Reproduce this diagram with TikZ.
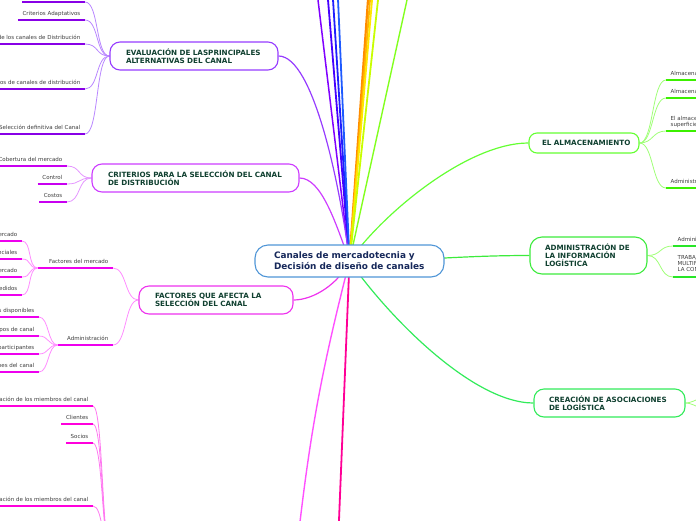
\documentclass[tikz,border=0pt]{standalone}
\usepackage{fontspec}
\setmainfont{DejaVu Sans}
\usepackage{xcolor}

% branch colours
\definecolor{evlc}{RGB}{150,60,255}
\definecolor{evlul}{RGB}{136,0,230}
\definecolor{evlcv}{RGB}{185,135,255}
\definecolor{crtc}{RGB}{205,60,255}
\definecolor{crtul}{RGB}{200,0,240}
\definecolor{crtcv}{RGB}{228,150,255}
\definecolor{facc}{RGB}{238,50,238}
\definecolor{facul}{RGB}{238,0,238}
\definecolor{faccv}{RGB}{255,140,255}
\definecolor{botul}{RGB}{255,0,220}
\definecolor{botcv}{RGB}{255,120,240}
\definecolor{almc}{RGB}{100,255,50}
\definecolor{almul}{RGB}{60,240,0}
\definecolor{almcv}{RGB}{160,255,120}
\definecolor{admc}{RGB}{60,235,60}
\definecolor{admul}{RGB}{40,230,40}
\definecolor{crec}{RGB}{50,235,90}
\definecolor{ctrc}{RGB}{80,150,215}
\definecolor{titlec}{RGB}{16,64,48}
\definecolor{ctrtxt}{RGB}{22,40,90}
\definecolor{leaftxt}{RGB}{60,60,60}
% rays to topics outside the picture
\definecolor{rayviolet}{RGB}{128,0,255}
\definecolor{rayindigo}{RGB}{70,0,255}
\definecolor{rayblue}{RGB}{30,30,255}
\definecolor{rayazure}{RGB}{30,90,255}
\definecolor{rayorange}{RGB}{255,140,0}
\definecolor{rayamber}{RGB}{255,180,0}
\definecolor{rayyellow}{RGB}{255,230,0}
\definecolor{raylime}{RGB}{200,255,0}
\definecolor{raygreen}{RGB}{130,255,30}
\definecolor{raypink}{RGB}{255,80,255}
\definecolor{rayrose}{RGB}{255,0,150}

\pgfdeclarelayer{links}
\pgfsetlayers{links,main}

\begin{document}
\begin{tikzpicture}[x=1pt, y=-1pt,
  topic/.style={draw=#1, line width=1.1pt, rounded corners=10pt, fill=white,
    align=left, inner ysep=0pt, inner xsep=16pt, text=titlec,
    font=\bfseries\fontsize{7.2}{8}\selectfont},
  leaf/.style={font=\fontsize{5.5}{6.6}\selectfont, text=leaftxt,
    inner xsep=4.5pt, inner ysep=3pt, text depth=1.3pt,
    append after command={(\tikzlastnode.south west)
      edge[draw=#1, line width=1.8pt] (\tikzlastnode.south east)}},
  branch/.style={draw=#1, line width=1.2pt},
  twig/.style={draw=#1, line width=0.8pt},
  ray/.style={draw=#1, line width=1.8pt}]

  \useasboundingbox (0,0) rectangle (696,520);
  \clip (0,0) rectangle (696,520);

  % ── Central topic ─────────────────────────────────────────
  \node[topic=ctrc, text=ctrtxt, font=\bfseries\fontsize{8.9}{10.7}\selectfont,
        inner xsep=19pt, text width=151pt, minimum height=32pt, rounded corners=13pt]
    (ctr) at (349.5,261) {\mbox{Canales de mercadotecnia y}\\\mbox{Decisión de diseño de canales}};

  % ── Left topics ───────────────────────────────────────────
  \node[topic=evlc, text width=136pt, minimum height=28pt]
    (evl) at (194,56) {\mbox{EVALUACIÓN DE LASPRINCIPALES}\\\mbox{ALTERNATIVAS DEL CANAL}};
  \node[topic=crtc, text width=175pt, minimum height=28pt]
    (crt) at (195.5,178) {\mbox{CRITERIOS PARA LA SELECCIÓN DEL CANAL}\\\mbox{DE DISTRIBUCIÓN}};
  \node[topic=facc, text width=122pt, minimum height=28pt]
    (fac) at (216,300) {\mbox{FACTORES QUE AFECTA LA}\\\mbox{SELECCIÓN DEL CANAL}};

  % ── Right topics ──────────────────────────────────────────
  \node[topic=almc, inner xsep=13pt, text width=84pt, minimum height=20pt, rounded corners=8pt]
    (alm) at (584,143) {\mbox{EL ALMACENAMIENTO}};
  \node[topic=admc, inner xsep=15pt, text width=87pt, minimum height=37pt, rounded corners=12pt]
    (adm) at (588.5,255.5) {\mbox{ADMINISTRACIÓN DE}\\\mbox{LA INFORMACIÓN}\\\mbox{LOGÍSTICA}};
  \node[topic=crec, inner xsep=15pt, text width=121pt, minimum height=28pt]
    (cre) at (609.5,403) {\mbox{CREACIÓN DE ASOCIACIONES}\\\mbox{DE LOGÍSTICA}};

  % ── Evaluación: leaves ────────────────────────────────────
  \coordinate (e0) at (85,2);
  \draw[evlul, line width=1.8pt] (e0) -- ++(-63,0);
  \node[leaf=evlul, anchor=south east] (e1) at (85,20) {Criterios Adaptativos};
  \node[leaf=evlul, anchor=south east] (e2) at (85,44) {Niveles de los canales de Distribución};
  \node[leaf=evlul, anchor=south east] (e3) at (85,89) {Tipos de canales de distribución};
  \node[leaf=evlul, anchor=south east] (e4) at (85,134) {Selección definitiva del Canal};

  % ── Criterios: leaves ─────────────────────────────────────
  \node[leaf=crtul, anchor=south east] (c1) at (67,166) {Cobertura del mercado};
  \node[leaf=crtul, anchor=south east] (c2) at (67,184) {Control};
  \node[leaf=crtul, anchor=south east] (c3) at (67,202) {Costos};

  % ── Factores: sub-topics and leaves ───────────────────────
  \node[leaf=facul, anchor=south east, text width=66pt, align=right]
    (f1) at (113,268) {Factores del mercado};
  \node[leaf=facul, anchor=south east, text width=46pt, align=right]
    (f2) at (113,345) {Administración};
  \node[leaf=facul, anchor=south east] (f11) at (22,241) {Tamaño del mercado};
  \node[leaf=facul, anchor=south east] (f12) at (22,259) {Clientes potenciales};
  \node[leaf=facul, anchor=south east] (f13) at (22,277) {Concentración del mercado};
  \node[leaf=facul, anchor=south east] (f14) at (22,295) {Tamaño de los pedidos};
  \node[leaf=facul, anchor=south east] (f21) at (39,317) {Recursos disponibles};
  \node[leaf=facul, anchor=south east] (f22) at (39,336) {Tipos de canal};
  \node[leaf=facul, anchor=south east] (f23) at (39,354) {Número de participantes};
  \node[leaf=facul, anchor=south east] (f24) at (39,372) {Funciones del canal};

  % ── Bottom branch (topic below the picture) ──────────────
  \coordinate (sel) at (110,548);
  \coordinate (selR) at (297,548);
  \node[leaf=botul, anchor=south east] (b1) at (93,406) {Motivación de los miembros del canal};
  \node[leaf=botul, anchor=south east] (b2) at (93,424) {Clientes};
  \node[leaf=botul, anchor=south east] (b3) at (93,443) {Socios};
  \node[leaf=botul, anchor=south east] (b4) at (93,506) {Evaluación de los miembros del canal};

  % ── Right leaves ──────────────────────────────────────────
  \node[leaf=almul, anchor=south west] (a1) at (666,80) {Almacenamiento propio};
  \node[leaf=almul, anchor=south west] (a2) at (666,98) {Almacenamiento público};
  \node[leaf=almul, anchor=south west, align=left, text depth={}]
    (a3) at (666,131) {El almacenamiento de\\superficie};
  \node[leaf=almul, anchor=south west] (a4) at (666,188) {Administración de inventarios};
  \node[leaf=admul, anchor=south west] (i1) at (673,246) {Administración de pedidos};
  \node[leaf=admul, anchor=south west, align=left, text depth={}, inner ysep=5pt,
        font=\fontsize{5.5}{6}\selectfont]
    (i2) at (673,277) {TRABAJO EN EQUIPO\\MULTIFUNCIONAL DENTRO DE\\LA COMPAÑÍA};
  \coordinate (cr1) at (716,392);
  \coordinate (cr2) at (716,414);

  % ── Topics outside the picture ────────────────────────────
  \coordinate (t1) at (316.8,-10);
  \coordinate (t2) at (327.2,-10);
  \coordinate (t3) at (332.4,-10);
  \coordinate (t4) at (337.6,-10);
  \coordinate (t5) at (368.7,-10);
  \coordinate (t6) at (370.8,-10);
  \coordinate (t7) at (372.9,-10);
  \coordinate (t8) at (379.1,-10);
  \coordinate (t9) at (409.2,-10);
  \coordinate (d2) at (338.4,535);

  \begin{pgfonlayer}{links}
    \clip (0,0) rectangle (696,520);
    % Rays
    \draw[ray=rayviolet, line width=1.5pt] (ctr.center) -- (t1);
    \draw[ray=rayindigo] (ctr.center) -- (t2);
    \draw[ray=rayblue] (ctr.center) -- (t3);
    \draw[ray=rayazure] (ctr.center) -- (t4);
    \draw[ray=rayorange, line width=2.2pt] (ctr.center) -- (t5);
    \draw[ray=rayamber] (ctr.center) -- (t6);
    \draw[ray=rayyellow] (ctr.center) -- (t7);
    \draw[ray=raylime] (ctr.center) -- (t8);
    \draw[ray=raygreen, line width=1.4pt] (ctr.center) -- (t9);
    \draw[ray=raypink, line width=1.4pt] (ctr.center) to[bend right=4] (selR);
    \draw[ray=rayrose] (ctr.center) -- (d2);
    % Centre to topics
    \draw[branch=evlc] (ctr.center) to[out=97, in=0, out distance=75pt, in distance=35pt] (evl.east);
    \draw[branch=crtc] (ctr.center) to[out=110, in=0, out distance=40pt, in distance=22pt] (crt.east);
    \draw[branch=facc] (ctr.center) to[out=-115, in=0, out distance=25pt, in distance=20pt] (fac.east);
    \draw[branch=almc] (ctr.center) to[out=55, in=180, out distance=60pt, in distance=60pt] (alm.west);
    \draw[branch=admc] (ctr.center) to[out=0, in=180] (adm.west);
    \draw[branch=crec] (ctr.center) to[out=-55, in=180, out distance=70pt, in distance=60pt] (cre.west);
    % Evaluación
    \draw[twig=evlcv] (evl.west) to[out=180, in=0, distance=14pt] (e0);
    \draw[twig=evlcv] (evl.west) to[out=180, in=0, distance=14pt] (e1.south east);
    \draw[twig=evlcv] (evl.west) to[out=180, in=0, distance=14pt] (e2.south east);
    \draw[twig=evlcv] (evl.west) to[out=180, in=0, distance=14pt] (e3.south east);
    \draw[twig=evlcv] (evl.west) to[out=180, in=0, distance=14pt] (e4.south east);
    % Criterios
    \draw[twig=crtcv] (crt.west) to[out=180, in=0, distance=14pt] (c1.south east);
    \draw[twig=crtcv] (crt.west) to[out=180, in=0, distance=14pt] (c2.south east);
    \draw[twig=crtcv] (crt.west) to[out=180, in=0, distance=14pt] (c3.south east);
    % Factores
    \draw[twig=faccv] (fac.west) to[out=180, in=0, distance=14pt] (f1.south east);
    \draw[twig=faccv] (fac.west) to[out=180, in=0, distance=14pt] (f2.south east);
    \draw[twig=faccv] (f1.south west) to[out=180, in=0, distance=10pt] (f11.south east);
    \draw[twig=faccv] (f1.south west) to[out=180, in=0, distance=10pt] (f12.south east);
    \draw[twig=faccv] (f1.south west) to[out=180, in=0, distance=10pt] (f13.south east);
    \draw[twig=faccv] (f1.south west) to[out=180, in=0, distance=10pt] (f14.south east);
    \draw[twig=faccv] (f2.south west) to[out=180, in=0, distance=10pt] (f21.south east);
    \draw[twig=faccv] (f2.south west) to[out=180, in=0, distance=10pt] (f22.south east);
    \draw[twig=faccv] (f2.south west) to[out=180, in=0, distance=10pt] (f23.south east);
    \draw[twig=faccv] (f2.south west) to[out=180, in=0, distance=10pt] (f24.south east);
    % Bottom branch
    \draw[twig=botcv] (sel) to[out=180, in=0, out distance=8pt, in distance=10pt] (b1.south east);
    \draw[twig=botcv] (sel) to[out=180, in=0, out distance=8pt, in distance=10pt] (b2.south east);
    \draw[twig=botcv] (sel) to[out=180, in=0, out distance=8pt, in distance=10pt] (b3.south east);
    \draw[twig=botcv] (sel) to[out=180, in=0, out distance=8pt, in distance=10pt] (b4.south east);
    % Almacenamiento
    \draw[twig=almcv] (alm.east) to[out=0, in=180, distance=14pt] (a1.south west);
    \draw[twig=almcv] (alm.east) to[out=0, in=180, distance=14pt] (a2.south west);
    \draw[twig=almcv] (alm.east) to[out=0, in=180, distance=14pt] (a3.south west);
    \draw[twig=almcv] (alm.east) to[out=0, in=180, distance=14pt] (a4.south west);
    % Información logística
    \draw[twig=almcv] (adm.east) to[out=0, in=180, distance=14pt] (i1.south west);
    \draw[twig=almcv] (adm.east) to[out=0, in=180, distance=14pt] (i2.south west);
    % Asociaciones
    \draw[twig=almcv] (cre.east) to[out=0, in=180, distance=10pt] (cr1);
    \draw[twig=almcv] (cre.east) to[out=0, in=180, distance=10pt] (cr2);
  \end{pgfonlayer}
\end{tikzpicture}
\end{document}
